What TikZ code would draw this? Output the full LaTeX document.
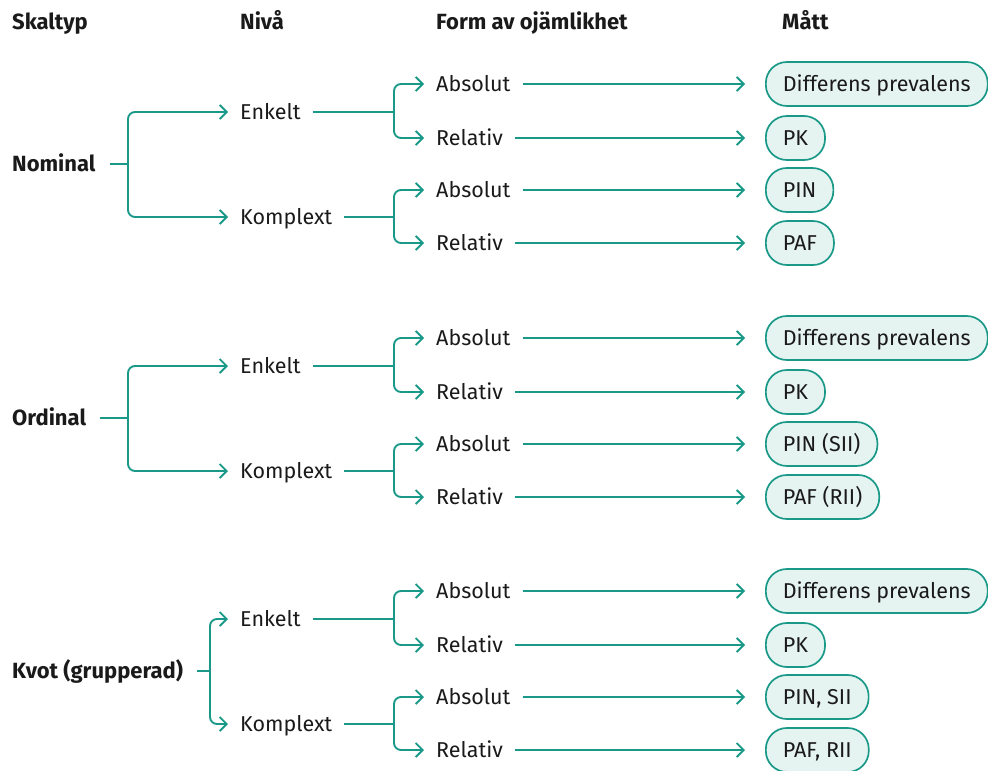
\documentclass[tikz,border=0pt]{standalone}
\usepackage{fontspec}
\setmainfont{Fira Sans}
\usetikzlibrary{arrows.meta}
\definecolor{teal1}{HTML}{1A9988}
\definecolor{tealfill}{HTML}{E6F4F1}
\definecolor{txt}{HTML}{1A1A1A}
\begin{document}
\begin{tikzpicture}[x=1pt,y=-1pt,
  lbl/.style={anchor=west,inner sep=0pt,text height=14.8pt,text depth=0pt,text=txt,font=\fontsize{21.5}{25}\selectfont},
  hdr/.style={lbl,font=\fontsize{22}{26}\selectfont\bfseries},
  mbox/.style={anchor=west,draw=teal1,fill=tealfill,line width=1.7pt,rounded corners=21pt,
     minimum height=44pt,inner xsep=17pt,inner ysep=0pt,text height=14.8pt,text depth=0pt,text=txt,
     font=\fontsize{21.5}{25}\selectfont},
  conn/.style={draw=teal1,line width=1.9pt},
  arr/.style={conn,-{Straight Barb[length=7pt,width=14pt,line width=1.9pt]},shorten >=12pt,rounded corners=7pt},
]
\useasboundingbox (0,0) rectangle (988,771);
% headers
\node[hdr] (h1) at (12,22) {Skaltyp};
\node[hdr] (h2) at (240,22) {Nivå};
\node[hdr] (h3) at (436,22) {Form av ojämlikhet};
\node[hdr] (h4) at (782,22) {Mått};

\foreach \g/\off/\pname/\jx/\ma/\mb/\mc/\md in {
  a/0/Nominal/128/{Differens prevalens}/PK/PIN/PAF,
  b/254/Ordinal/128/{Differens prevalens}/PK/{PIN (SII)}/{PAF (RII)},
  c/507/{Kvot (grupperad)}/210/{Differens prevalens}/PK/{PIN, SII}/{PAF, RII}}{
  \node[hdr] (p\g) at (12,164+\off) {\pname};
  \coordinate (jp\g) at (\jx,164+\off);
  \node[lbl] (enk\g) at (240,112+\off) {Enkelt};
  \node[lbl] (kom\g) at (240,217+\off) {Komplext};
  \coordinate (je\g) at (394,112+\off);
  \coordinate (jk\g) at (394,217+\off);
  \node[lbl] (a1\g) at (436,84+\off) {Absolut};
  \node[lbl] (r1\g) at (436,138+\off) {Relativ};
  \node[lbl] (a2\g) at (436,190+\off) {Absolut};
  \node[lbl] (r2\g) at (436,243+\off) {Relativ};
  \node[mbox] (m1\g) at (765,84+\off) {\ma};
  \node[mbox] (m2\g) at (765,138+\off) {\mb};
  \node[mbox] (m3\g) at (765,190+\off) {\mc};
  \node[mbox] (m4\g) at (765,243+\off) {\md};
  % connectors
  \draw[conn,shorten <=14pt] (p\g.east) -- (jp\g);
  \draw[arr] (jp\g) |- (enk\g.west);
  \draw[arr] (jp\g) |- (kom\g.west);
  \draw[conn,shorten <=12pt] (enk\g.east) -- (je\g);
  \draw[conn,shorten <=12pt] (kom\g.east) -- (jk\g);
  \draw[arr] (je\g) |- (a1\g.west);
  \draw[arr] (je\g) |- (r1\g.west);
  \draw[arr] (jk\g) |- (a2\g.west);
  \draw[arr] (jk\g) |- (r2\g.west);
  \draw[arr,shorten <=12pt,shorten >=20pt] (a1\g.east) -- (m1\g.west);
  \draw[arr,shorten <=12pt,shorten >=20pt] (r1\g.east) -- (m2\g.west);
  \draw[arr,shorten <=12pt,shorten >=20pt] (a2\g.east) -- (m3\g.west);
  \draw[arr,shorten <=12pt,shorten >=20pt] (r2\g.east) -- (m4\g.west);
}
\end{tikzpicture}
\end{document}
